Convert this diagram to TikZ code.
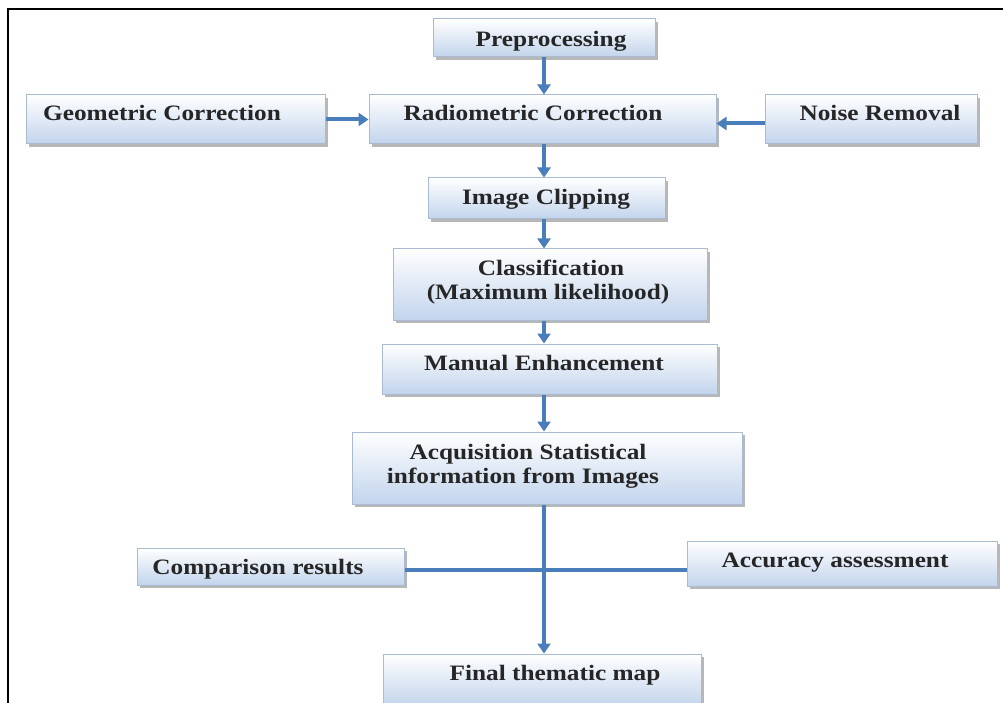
\documentclass[tikz,border=0pt]{standalone}
\usepackage{fontspec}
\setmainfont{Liberation Serif}[FakeStretch=1.15]
\usetikzlibrary{arrows.meta,shadows}
\definecolor{boxline}{HTML}{A9BBD1}
\definecolor{boxbot}{HTML}{C2D4EC}
\definecolor{arrowblue}{HTML}{4A7EBB}
\begin{document}
\begin{tikzpicture}[x=1pt,y=-1pt,
  box/.style={draw=boxline, line width=1pt, top color=white, bottom color=boxbot,
    drop shadow={shadow xshift=3pt,shadow yshift=-3pt,fill=black!35,opacity=0.8},
    inner sep=0pt, rectangle},
  lbl/.style={font=\bfseries\fontsize{22}{24}\selectfont, inner sep=0pt, anchor=base, text=black!85},
  arr/.style={draw=arrowblue, line width=4pt, -{Triangle[width=13pt,length=10pt]}, arrowblue},
  conn/.style={draw=arrowblue, line width=4pt}
]
\useasboundingbox (0,0) rectangle (1003,703);
\fill[white] (0,0) rectangle (1003,703);
\draw[line width=2.2pt] (8,720) -- (8,9) -- (1003,9);

% boxes
\node[box, minimum width=222pt, minimum height=38pt] (pre) at (544,38) {};
\node[box, minimum width=299pt, minimum height=49pt] (geo) at (175.5,119.5) {};
\node[box, minimum width=347pt, minimum height=49pt] (rad) at (542.5,119.5) {};
\node[box, minimum width=212pt, minimum height=49pt] (noise) at (871,119.5) {};
\node[box, minimum width=237pt, minimum height=41pt] (clip) at (546.5,198.5) {};
\node[box, minimum width=314pt, minimum height=71pt] (cls) at (550,284.5) {};
\node[box, minimum width=335pt, minimum height=50pt] (man) at (549.5,369) {};
\node[box, minimum width=390pt, minimum height=72pt] (acq) at (547,468) {};
\node[box, minimum width=267pt, minimum height=37pt] (cmp) at (270.5,566.5) {};
\node[box, minimum width=310pt, minimum height=45pt] (acc) at (842,563.5) {};
\node[box, minimum width=318pt, minimum height=52pt] (fin) at (542,680) {};

% labels
\node[lbl] (tpre) at (551,47) {Preprocessing};
\node[lbl] (tgeo) at (162,121) {Geometric Correction};
\node[lbl] (trad) at (533,121) {Radiometric Correction};
\node[lbl] (tnoise) at (880,121) {Noise Removal};
\node[lbl] (tclip) at (546,205) {Image Clipping};
\node[lbl] (tcls1) at (551,275) {Classification};
\node[lbl] (tcls2) at (548,299) {(Maximum likelihood)};
\node[lbl] (tman) at (544,370) {Manual Enhancement};
\node[lbl] (tacq1) at (528,459) {Acquisition Statistical};
\node[lbl] (tacq2) at (523,483) {information from Images};
\node[lbl] (tcmp) at (258,574) {Comparison results};
\node[lbl] (tacc) at (835,567) {Accuracy assessment};
\node[lbl] (tfin) at (555,680) {Final thematic map};

% connectors
\coordinate (cx) at (544,0);
\coordinate (hl) at (0,570);
\draw[arr] (cx |- pre.south) -- (cx |- rad.north);
\draw[arr] (geo.east) -- (rad.west);
\draw[arr] ([yshift=-4pt]noise.west) -- ([yshift=-4pt]rad.east);
\draw[arr] (cx |- rad.south) -- (cx |- clip.north);
\draw[arr] (cx |- clip.south) -- (cx |- cls.north);
\draw[arr] (cx |- cls.south) -- (cx |- man.north);
\draw[arr] (cx |- man.south) -- (cx |- acq.north);
\draw[conn] (cmp.east |- hl) -- (acc.west |- hl);
\draw[arr] (cx |- acq.south) -- (cx |- fin.north);
\end{tikzpicture}
\end{document}
